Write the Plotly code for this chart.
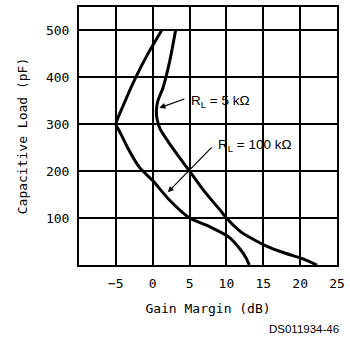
import plotly.graph_objects as go

# RL = 100 kOhm curve (left)
gm_100k = [13.1, 12.7, 11.9, 10.3, 7.7, 5.0, 2.3, 0.0, -1.8, -3.4, -4.5, -5.0, -4.0, -2.3, -0.7, 1.2]
cl_100k = [0, 14, 33, 60, 82, 100, 138, 180, 208, 250, 285, 300, 340, 400, 449, 500]

# RL = 5 kOhm curve (right)
gm_5k = [22.3, 20.2, 18.0, 15.2, 12.0, 10.0, 9.2, 6.9, 5.0, 3.5, 2.3, 1.0, 0.6, 0.5, 0.7, 1.4, 2.3, 3.1]
cl_5k = [0, 14, 25, 42, 70, 100, 116, 159, 200, 232, 258, 290, 310, 330, 350, 378, 434, 500]

x_ticks = [-5, 0, 5, 10, 15, 20, 25]
y_ticks = [100, 200, 300, 400, 500]

mono = "DejaVu Sans Mono"

fig = go.Figure()
fig.add_trace(go.Scatter(x=gm_100k, y=cl_100k, mode="lines",
                         line=dict(color="black", width=3, shape="spline", smoothing=0.6),
                         showlegend=False, hoverinfo="skip"))
fig.add_trace(go.Scatter(x=gm_5k, y=cl_5k, mode="lines",
                         line=dict(color="black", width=3, shape="spline", smoothing=0.6),
                         showlegend=False, hoverinfo="skip"))

fig.update_layout(
    width=350, height=337,
    margin=dict(l=79, r=12, t=5, b=72),
    paper_bgcolor="white", plot_bgcolor="white",
    font=dict(family=mono, size=13, color="black"),
    xaxis=dict(range=[-10, 25], tickvals=x_ticks, ticktext=[str(v).replace("-", "−") for v in x_ticks],
               showgrid=True, gridcolor="black", gridwidth=1.5,
               showline=True, linecolor="black", linewidth=2, mirror=True,
               zeroline=False, ticks="", ticklabelstandoff=5,
               tickfont=dict(family=mono, size=13),
               title=dict(text="Gain Margin (dB)", standoff=14, font=dict(family=mono, size=13))),
    yaxis=dict(range=[0, 550], tickvals=y_ticks,
               showgrid=True, gridcolor="black", gridwidth=1.5,
               showline=True, linecolor="black", linewidth=2, mirror=True,
               zeroline=False, ticks="", ticklabelstandoff=5,
               tickfont=dict(family=mono, size=13),
               title=dict(text="Capacitive Load (pF)", standoff=15, font=dict(family=mono, size=13))),
)

fig.add_annotation(x=0.9, y=335, ax=4.5, ay=355, axref="x", ayref="y",
                   text="", showarrow=True, arrowhead=2, arrowsize=1, arrowwidth=1.2, arrowcolor="black")
fig.add_annotation(x=2.05, y=155, ax=8.2, ay=254, axref="x", ayref="y",
                   text="", showarrow=True, arrowhead=2, arrowsize=1, arrowwidth=1.2, arrowcolor="black")

fig.add_annotation(x=4.9, y=349, xanchor="left", yanchor="middle", showarrow=False,
                   text="R<sub>L</sub> = 5 kΩ", font=dict(family="Liberation Sans", size=13.5))
fig.add_annotation(x=8.6, y=254, xanchor="left", yanchor="middle", showarrow=False,
                   text="R<sub>L</sub> = 100 kΩ", font=dict(family="Liberation Sans", size=13.5))

fig.add_annotation(x=1.0, y=0, xref="paper", yref="paper", xanchor="right", yanchor="top",
                   xshift=4, yshift=-56, showarrow=False, text="DS011934-46",
                   font=dict(family="Liberation Sans", size=11.5))

fig.write_html("out.html", config={"displayModeBar": False},
               post_script="document.body.style.margin='0';document.body.style.padding='0';")
